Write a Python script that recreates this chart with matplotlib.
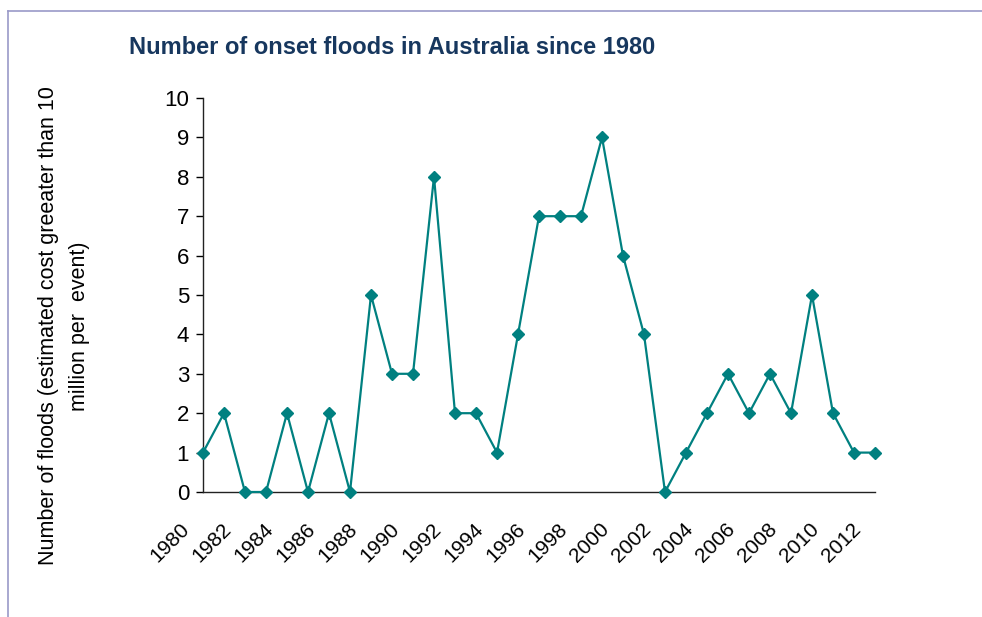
import numpy as np
import matplotlib
matplotlib.use('Agg')
import matplotlib.pyplot as plt
import matplotlib.transforms as mtransforms
from matplotlib.lines import Line2D

# Onset floods per year (cost > 10 million per event)
years = list(range(1980, 2013))
floods = [1, 2, 0, 0, 2, 0, 2, 0, 5, 3, 3, 8, 2, 2, 1, 4, 7,
          7, 7, 9, 6, 4, 0, 1, 2, 3, 2, 3, 2, 5, 2, 1, 1]
year_labels = [str(y) for y in years]

plt.rcParams['font.family'] = ['Liberation Sans', 'DejaVu Sans']

fig = plt.figure(figsize=(9.82, 6.17), dpi=100)
ax = fig.add_axes([203 / 982, 1 - 492 / 617, 672 / 982, 394 / 617])

x = np.arange(len(years))
ax.plot(x, floods, color='#008080', lw=1.6, marker='D', ms=6.5,
        mec='#008080', mfc='#008080', clip_on=False, zorder=3)

ax.set_xlim(0, len(years) - 1)
ax.set_ylim(0, 10)
ax.set_yticks(range(0, 11))
ax.tick_params(axis='y', labelsize=16, length=5, width=1, pad=5)

ax.set_xticks(x[::2])
ax.set_xticklabels(year_labels[::2], rotation=45, ha='right', va='top',
                   fontsize=15)
ax.tick_params(axis='x', length=0, pad=20)
ax.set_xticks([0], minor=True)
ax.tick_params(axis='x', which='minor', length=5, width=1, direction='out')
offset = mtransforms.ScaledTranslation(-10 / 100, 0, fig.dpi_scale_trans)
for lbl in ax.get_xticklabels():
    lbl.set_transform(lbl.get_transform() + offset)

for s in ['top', 'right']:
    ax.spines[s].set_visible(False)
for s in ['left', 'bottom']:
    ax.spines[s].set_color('#222222')
    ax.spines[s].set_linewidth(1)

fig.text(392 / 982, 1 - 48 / 617, 'Number of onset floods in Australia since 1980',
         ha='center', va='center', fontsize=17, fontweight='bold', color='#17375e')

fig.text(64 / 982, 1 - 326 / 617,
         'Number of floods (estimated cost greeater than 10\nmillion per  event)',
         rotation=90, ha='center', va='center', multialignment='center',
         fontsize=15.5, linespacing=1.6)

# outer frame
frame_color = '#9a9ac8'
fig.add_artist(Line2D([8 / 982, 8 / 982], [0, 1 - 11 / 617], color=frame_color, lw=1.2))
fig.add_artist(Line2D([8 / 982, 1], [1 - 11 / 617, 1 - 11 / 617], color=frame_color, lw=1.2))

fig.savefig('out.png', dpi=100)
